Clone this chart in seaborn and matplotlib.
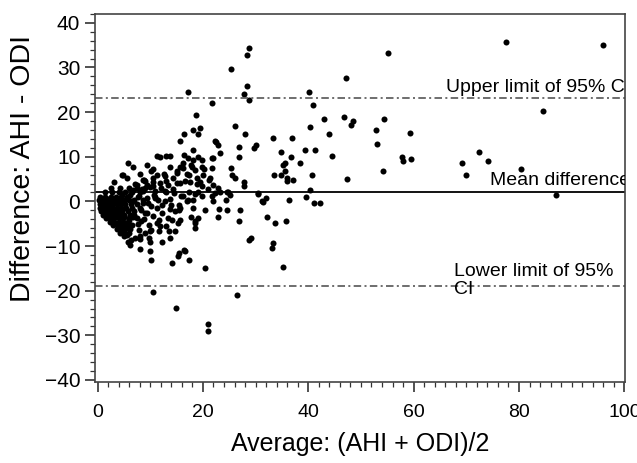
import numpy as np
import pandas as pd
import seaborn as sns
import matplotlib.pyplot as plt
from matplotlib.ticker import MultipleLocator

# Puntos: promedio (AHI+ODI)/2 y diferencia AHI-ODI
avg = [
    77.6, 96.0, 84.6, 55.1, 47.1, 40.1, 40.9, 43.0, 46.7, 48.4, 48.2, 40.4, 44.0, 54.3, 52.8, 59.4, 33.3, 37.0,
    28.8, 28.4, 25.3, 28.4, 27.8, 28.8, 17.1, 21.7, 18.6, 26.1, 16.5, 18.2, 19.5, 19.0, 28.0, 15.7, 22.3,
    22.9, 26.9, 30.0, 29.7, 18.1, 23.3, 26.9, 21.9, 16.5, 19.8, 11.3, 11.9, 12.9, 13.8, 17.1, 5.7, 6.7, 9.4,
    13.8, 16.3, 17.7, 18.5, 19.8, 20.3, 21.7, 25.3, 25.5, 26.1, 27.8, 27.8, 4.7, 3.2, 8.1, 10.2, 11.3, 12.7,
    15.1, 16.9, 18.8, 20.1, 21.4, 9.1, 10.6, 12.9, 15.7, 17.6, 19.5, 22.0, 22.9, 24.5, 24.4, 30.4, 31.3, 31.9,
    32.1, 20.4, 22.8, 24.6, 26.9, 16.9, 15.4, 18.2, 15.4, 13.8, 12.2, 11.6, 14.1, 15.2, 17.8, 18.5, 8.3, 9.7,
    11.3, 12.9, 10.2, 11.6, 9.1, 13.5, 7.2, 8.1, 9.7, 5.7, 6.2, 8.0, 9.9, 10.0, 10.2, 14.1, 15.2, 15.4, 16.6,
    17.4, 20.4, 28.8, 29.2, 27.0, 23.0, 18.5, 19.1, 19.8, 21.7, 22.3, 21.9,
    10.6, 14.9, 21.0, 20.9, 26.4,
    53.0, 34.9, 36.7, 39.3, 41.2, 44.5, 57.8, 57.9, 59.5, 35.5, 35.2, 38.4, 35.5, 33.5, 34.9, 36.0, 35.9,
    37.1, 40.8, 47.3, 54.1, 40.3, 39.5, 31.4, 36.4, 41.1, 42.2, 33.6, 35.7, 33.3, 33.2, 35.2,
    72.4, 69.1, 74.2, 70.0, 80.3, 87.1,
    22.5, 21.2, 23.3, 24.8, 25.1, 30.5, 16.4, 15.7, 18.5, 18.5, 19.1, 16.3, 17.1, 18.1, 17.3, 18.8, 19.8,
    21.0, 16.6, 17.3, 17.9, 18.2, 16.3, 19.1, 21.7,
    10.6, 15.6, 4.9, 5.5, 8.7, 10.6, 12.8, 14.4, 15.0, 7.4, 9.3, 10.6, 11.8, 13.4, 15.0, 6.8, 8.7, 10.9,
    12.8, 14.4, 3.0, 4.9, 5.5, 8.1, 9.9, 11.8, 13.4, 14.7, 11.2, 9.3, 7.4, 6.8, 8.7, 10.9, 12.8, 14.0, 15.9,
    15.6, 14.7, 13.7, 12.2,
    # nube densa cerca del origen
    0.5, 1.5, 2.5, 3.5, 4.5, 5.5,
    0.3, 1.0, 1.8, 2.6, 3.4, 4.2, 5.0, 6.0, 7.0,
    0.4, 1.2, 2.0, 2.8, 3.6, 4.4, 5.2, 6.3, 7.5,
    0.5, 1.3, 2.1, 2.9, 3.7, 4.5, 5.4, 6.6, 8.0,
    0.6, 1.4, 2.2, 3.0, 3.8, 4.7, 5.8, 7.0,
    1.0, 1.8, 2.6, 3.4, 4.2, 5.1, 6.2,
    1.6, 2.4, 3.2, 4.0, 4.9, 5.9,
    2.4, 3.2, 4.0, 4.8, 5.7,
    3.0, 3.8, 4.6, 5.5, 6.5,
    3.6, 4.4, 5.3, 6.2,
    4.2, 5.0, 6.0,
    1.5, 2.8, 4.0, 5.2, 6.5, 8.0,
    2.5, 4.2, 6.0, 7.5, 9.0,
    7.8, 8.6, 9.3, 10.1, 10.8, 11.5, 12.3, 13.0, 13.8, 14.5, 9.0, 10.5, 12.0, 7.2, 8.5, 10.0, 6.8, 7.6,
    8.8, 11.0,
    1.1, 2.0, 3.0, 4.0, 5.0, 6.0, 7.0, 8.2, 9.5, 1.9, 3.3, 4.6, 6.1, 7.7, 5.1, 6.4, 7.9, 3.9, 2.7, 8.8,
]
diff = [
    35.7, 35.0, 20.2, 33.3, 27.6, 24.5, 21.5, 18.4, 18.8, 17.9, 17.0, 16.6, 15.1, 18.4, 16.1, 15.3, 14.2, 14.1,
    34.4, 32.9, 29.7, 25.9, 24.1, 22.6, 24.4, 22.0, 19.4, 16.8, 15.1, 15.9, 16.4, 15.1, 15.2, 13.5, 13.6,
    12.6, 12.2, 12.7, 12.0, 11.6, 10.8, 9.9, 9.7, 10.5, 9.3, 10.2, 9.9, 10.1, 10.2, 9.7, 8.5, 7.8, 8.2,
    7.8, 7.5, 8.2, 7.1, 7.6, 7.3, 7.5, 7.5, 6.0, 5.2, 4.3, 3.5, 6.0, 4.3, 6.1, 6.7, 6.0, 6.1,
    6.3, 6.1, 5.2, 6.0, 5.2, 4.5, 4.3, 4.5, 4.1, 4.3, 4.3, 3.7, 3.0, 2.2, 0.2, 1.9, 0.0, 0.7,
    -3.4, -2.0, -3.4, -2.0, -4.5, 0.0, -0.7, -1.5, -2.0, -1.6, -2.6, -4.1, -4.1, -4.9, -3.4, -4.9, -4.3, -5.2,
    -4.9, -5.6, -6.3, -6.7, -7.1, -6.7, -8.1, -8.4, -8.1, -9.0, -9.7, -10.7, -9.0, -11.2, -13.1, -13.8, -12.3, -11.6, -11.1,
    -13.2, -15.0, -8.6, -8.2, -1.9, -1.8, 1.6, 2.1, 1.1, 1.3, 1.9, 0.0,
    -20.4, -23.9, -27.5, -29.1, -20.9,
    12.8, 11.1, 9.9, 11.4, 11.6, 10.2, 9.9, 9.1, 9.6, 8.6, 8.2, 8.5, 6.9, 5.8, 6.0, 5.2, 4.6,
    4.9, 6.0, 5.0, 6.9, 2.5, 1.0, -0.2, 0.4, -0.4, -0.4, -4.9, -4.5, -9.3, -10.5, -14.8,
    11.1, 8.5, 9.0, 5.8, 7.3, 1.5,
    13.3, 4.9, 2.2, 2.2, 1.5, 1.6, -10.8, -4.1, -4.3, -6.0, -3.7, 1.3, 0.2, 0.4, 2.2, 3.9, 3.4,
    2.8, 4.5, 6.0, 7.6, 9.3, 8.6, 9.9, 9.7,
    7.3, 7.8, 5.8, 5.2, 4.9, 5.2, 5.6, 5.2, 6.7, 3.7, 3.7, 3.4, 4.1, 3.7, 4.1, 2.6, 2.4, 2.4,
    2.4, 2.8, -3.7, -6.0, -7.5, -7.8, -6.7, -5.6, -3.7, -2.2, -1.5, -2.6, -3.7, 0.0, 0.4, 0.7, 0.0, -0.7, 1.1,
    -1.5, -6.7, -8.2, -9.0,
    # nube densa cerca del origen
    1.0, 1.0, 1.0, 1.0, 1.0, 1.0,
    0.2, 0.2, 0.2, 0.2, 0.2, 0.2, 0.2, 0.2, 0.2,
    -0.6, -0.6, -0.6, -0.6, -0.6, -0.6, -0.6, -0.6, -0.6,
    -1.4, -1.4, -1.4, -1.4, -1.4, -1.4, -1.4, -1.4, -1.4,
    -2.2, -2.2, -2.2, -2.2, -2.2, -2.2, -2.2, -2.2,
    -3.0, -3.0, -3.0, -3.0, -3.0, -3.0, -3.0,
    -3.8, -3.8, -3.8, -3.8, -3.8, -3.8,
    -4.6, -4.6, -4.6, -4.6, -4.6,
    -5.4, -5.4, -5.4, -5.4, -5.4,
    -6.2, -6.2, -6.2, -6.2,
    -7.0, -7.0, -7.0,
    2.0, 2.0, 2.0, 2.0, 2.0, 2.0,
    3.0, 3.0, 3.0, 3.0, 3.0,
    1.2, -0.3, 0.8, -1.0, 1.5, 0.3, -0.8, 2.0, 0.5, 1.8, -2.5, -3.2, 3.0, 4.0, 2.8, 3.3, -3.5, -5.0,
    -4.0, 1.0,
    -1.0, -1.8, -2.6, -2.6, -3.4, -4.2, -3.0, -2.0, -0.4, 0.6, -0.2, 1.5, 1.4, 0.9, -7.8, -8.6, -6.4, -5.0, -4.2, 4.8,
]

mean_diff = 2.1
upper_lim = 23.2
lower_lim = -19.0

df = pd.DataFrame({'avg': avg, 'diff': diff})

sns.set_style('ticks')
plt.rcParams['font.family'] = ['Liberation Sans', 'DejaVu Sans']
plt.rcParams['text.color'] = 'black'
plt.rcParams['axes.labelcolor'] = 'black'
plt.rcParams['xtick.labelcolor'] = 'black'
plt.rcParams['ytick.labelcolor'] = 'black'

fig, ax = plt.subplots(figsize=(6.37, 4.63), dpi=100)
fig.subplots_adjust(left=0.149, right=0.981, top=0.970, bottom=0.175)

sns.scatterplot(data=df, x='avg', y='diff', color='black', s=19, linewidth=0, ax=ax)

ax.axhline(mean_diff, color='black', lw=1.3)
ax.axhline(upper_lim, color='#555555', lw=1.2, linestyle=(0, (4.5, 2, 1.2, 2)))
ax.axhline(lower_lim, color='#555555', lw=1.2, linestyle=(0, (4.5, 2, 1.2, 2)))

ax.text(66.2, upper_lim + 0.4, 'Upper limit of 95% CI', fontsize=14, va='bottom', clip_on=True)
ax.text(74.5, mean_diff + 0.6, 'Mean difference', fontsize=14, va='bottom', clip_on=True)
ax.text(67.7, -17.7, 'Lower limit of 95%\nCI', fontsize=14, va='center', linespacing=1.1)

ax.set_xlim(-0.5, 100.1)
ax.set_ylim(-40.45, 42)
ax.xaxis.set_major_locator(MultipleLocator(20))
ax.xaxis.set_minor_locator(MultipleLocator(2))
ax.yaxis.set_major_locator(MultipleLocator(10))
ax.yaxis.set_minor_locator(MultipleLocator(2))
ax.tick_params(which='major', length=7, width=1.2, labelsize=14, color='#333333')
ax.tick_params(axis='x', which='major', pad=9)
ax.tick_params(axis='y', which='major', labelsize=15)
ax.tick_params(which='minor', length=3.5, width=0.9, color='#333333')

for sp in ax.spines.values():
    sp.set_visible(True)
    sp.set_color('#444444')
    sp.set_linewidth(1.2)

ax.set_xlabel('Average: (AHI + ODI)/2', fontsize=18, labelpad=8)
ax.set_ylabel('Difference: AHI - ODI', fontsize=20.5)
ax.yaxis.set_label_coords(-0.112, 0.58)

plt.savefig('out.png', dpi=100)
